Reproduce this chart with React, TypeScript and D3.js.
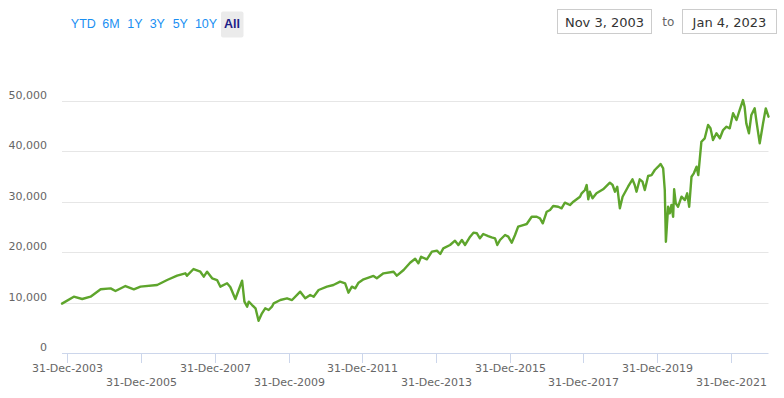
import React from "react";
import * as d3 from "d3";

// ---- data ----
const dates: string[] = [
  "2003-11-03","2004-02-28","2004-05-21","2004-08-12","2004-11-20","2005-02-27","2005-04-16","2005-07-24","2005-10-15","2005-12-20",
  "2006-06-03","2006-09-10","2006-12-18","2007-03-09","2007-03-26","2007-05-30","2007-08-05","2007-09-08","2007-10-11","2007-11-30",
  "2008-01-18","2008-02-20","2008-04-26","2008-05-28","2008-07-17","2008-08-19","2008-09-22","2008-10-15","2008-11-11","2008-11-27",
  "2008-12-30","2009-02-02","2009-03-04","2009-04-07","2009-05-09","2009-06-12","2009-07-15","2009-08-01","2009-10-06","2009-12-11",
  "2010-01-30","2010-04-21","2010-06-10","2010-07-29","2010-09-01","2010-10-20","2011-01-11","2011-03-16","2011-05-21","2011-07-10",
  "2011-08-12","2011-09-15","2011-10-18","2011-11-20","2012-01-09","2012-04-16","2012-05-19","2012-07-24","2012-11-01","2012-12-04",
  "2013-02-09","2013-04-14","2013-06-03","2013-07-05","2013-08-01","2013-09-27","2013-11-16","2014-01-05","2014-02-07","2014-03-09",
  "2014-05-15","2014-07-03","2014-08-05","2014-09-09","2014-10-11","2014-11-30","2015-01-02","2015-02-05","2015-03-07","2015-04-09",
  "2015-05-28","2015-07-01","2015-08-04","2015-08-26","2015-09-22","2015-11-11","2015-12-13","2016-01-16","2016-02-18","2016-03-20",
  "2016-05-09","2016-06-13","2016-08-01","2016-09-20","2016-10-22","2016-11-19","2016-12-28","2017-01-30","2017-03-02","2017-04-21",
  "2017-05-24","2017-06-26","2017-08-15","2017-09-18","2017-11-23","2017-12-09","2018-01-11","2018-01-28","2018-02-13","2018-02-28",
  "2018-03-27","2018-05-05","2018-07-10","2018-09-15","2018-10-12","2018-11-04","2018-11-27","2018-12-23","2019-01-19","2019-03-14",
  "2019-04-27","2019-05-19","2019-06-06","2019-07-08","2019-08-04","2019-08-27","2019-09-29","2019-11-02","2019-12-04","2020-01-06",
  "2020-01-30","2020-02-25","2020-03-12","2020-03-23","2020-04-14","2020-05-01","2020-05-17","2020-06-03","2020-06-13","2020-06-29",
  "2020-07-22","2020-08-25","2020-09-27","2020-10-20","2020-11-09","2020-12-02","2020-12-25","2021-01-21","2021-02-07","2021-03-10",
  "2021-04-12","2021-05-15","2021-06-08","2021-07-03","2021-08-06","2021-09-09","2021-10-11","2021-11-14","2021-12-16","2022-01-18",
  "2022-02-21","2022-03-24","2022-04-26","2022-05-12","2022-05-29","2022-06-24","2022-07-18","2022-08-20","2022-09-07","2022-10-09",
  "2022-11-11","2022-12-08","2023-01-04",
];
const values: number[] = [
  9900,11270,10810,11270,12740,12930,12400,13390,12740,13260,
  13590,14580,15440,15910,15440,16760,16230,15240,16230,14920,
  14580,13260,13930,13200,10800,12600,14450,10280,9290,10280,
  9620,8970,6500,7980,8970,8630,9290,9960,10610,10950,
  10610,12260,10950,11610,11270,12600,13260,13590,14250,13930,
  12060,13260,12930,14050,14720,15380,14920,15910,16230,15440,
  16570,18000,18800,17890,19200,18690,20200,20400,19740,20870,
  21530,22380,21530,22520,21530,23180,23970,23850,22860,23710,
  23310,23050,22860,21530,22520,23510,23180,21980,23510,25160,
  25490,25690,27140,27140,26820,25830,28130,28470,29260,29120,
  28810,29920,29460,30120,31110,31780,32440,33430,30590,32100,
  30790,31780,32580,33890,33430,32100,33090,28810,31110,33090,
  34560,33430,32100,34560,34090,32440,35220,35410,36410,37060,
  37600,36740,32440,22180,29120,27810,29460,27140,32580,29800,
  29120,31110,30450,31780,29120,35080,35750,37060,35410,42020,
  42700,45330,44680,42360,43690,42700,44340,45000,44680,47660,
  46330,48310,50290,48960,45670,43690,47320,48640,45990,41700,
  45670,48640,46980,
];
const yTicks: number[] = [0, 10000, 20000, 30000, 40000, 50000];
const xTickLabels: string[] = [
  "31-Dec-2003","31-Dec-2005","31-Dec-2007","31-Dec-2009","31-Dec-2011",
  "31-Dec-2013","31-Dec-2015","31-Dec-2017","31-Dec-2019","31-Dec-2021",
];
const rangeButtons: string[] = ["YTD", "6M", "1Y", "3Y", "5Y", "10Y", "All"];
const startLabel = "Nov 3, 2003";
const endLabel = "Jan 4, 2023";

// ---- layout ----
const W = 784, H = 398;
const plotLeft = 62, plotRight = 768.5, plotTop = 101.5, plotBottom = 353.5;
const buttonCenters = [83.3, 111, 135, 157.3, 180.3, 206, 232];
const LINE_COLOR = "#5ea52c";

export default function App() {
  const parse = d3.timeParse("%Y-%m-%d");
  const data = dates.map((d, i) => ({ date: parse(d) as Date, value: values[i] }));
  const x = d3
    .scaleTime()
    .domain([parse("2003-11-03") as Date, parse("2023-01-04") as Date])
    .range([plotLeft, plotRight]);
  const y = d3.scaleLinear().domain([0, 50000]).range([plotBottom, plotTop]);
  const line = d3
    .line<{ date: Date; value: number }>()
    .x((d) => x(d.date))
    .y((d) => y(d.value));
  const fmt = d3.format(",");
  const parseTick = d3.timeParse("%d-%b-%Y");
  const crisp = (v: number) => Math.floor(v) + 0.5;

  return (
    <svg
      width={W}
      height={H}
      style={{ position: "absolute", left: 0, top: 0, background: "#fff" }}
      fontFamily="'DejaVu Sans', sans-serif"
    >
      {/* range selector */}
      <rect x={221} y={11.5} width={22.5} height={26} rx={2} fill="#ebebeb" />
      {rangeButtons.map((b, i) => (
        <text
          key={b}
          x={buttonCenters[i]}
          y={28}
          textAnchor="middle"
          fontFamily="'Liberation Sans', Arial, sans-serif"
          fontSize={12.5}
          fontWeight={b === "All" ? "bold" : "normal"}
          fill={b === "All" ? "#1d2088" : "#1a8ff2"}
        >
          {b}
        </text>
      ))}
      {/* date inputs */}
      <rect x={557.5} y={9.5} width={94} height={24} fill="#fff" stroke="#cccccc" />
      <text x={604.5} y={26.5} textAnchor="middle" fontSize={13} fill="#333">
        {startLabel}
      </text>
      <text x={668.3} y={26} textAnchor="middle" fontSize={12} fill="#666">
        to
      </text>
      <rect x={682.5} y={9.5} width={94} height={24} fill="#fff" stroke="#cccccc" />
      <text x={729.5} y={26.5} textAnchor="middle" fontSize={13} fill="#333">
        {endLabel}
      </text>

      {/* gridlines and y labels */}
      {yTicks.map((t) => (
        <g key={t}>
          {t !== 0 && (
            <line
              x1={plotLeft}
              x2={plotRight}
              y1={crisp(y(t))}
              y2={crisp(y(t))}
              stroke="#e6e6e6"
            />
          )}
          <text x={47} y={y(t) - 2.5} textAnchor="end" fontSize={11} fill="#666">
            {fmt(t)}
          </text>
        </g>
      ))}

      {/* x axis */}
      <line x1={plotLeft} x2={plotRight} y1={plotBottom} y2={plotBottom} stroke="#ccd6eb" />
      {xTickLabels.map((lab, i) => {
        const px = crisp(x(parseTick(lab) as Date));
        return (
          <g key={lab}>
            <line x1={px} x2={px} y1={plotBottom} y2={plotBottom + 9.5} stroke="#ccd6eb" />
            <text
              x={px}
              y={i % 2 === 0 ? 372 : 386}
              textAnchor="middle"
              fontSize={11}
              fill="#666"
            >
              {lab}
            </text>
          </g>
        );
      })}

      {/* series */}
      <path
        d={line(data) || ""}
        fill="none"
        stroke={LINE_COLOR}
        strokeWidth={2.4}
        strokeLinejoin="round"
        strokeLinecap="round"
      />
    </svg>
  );
}
